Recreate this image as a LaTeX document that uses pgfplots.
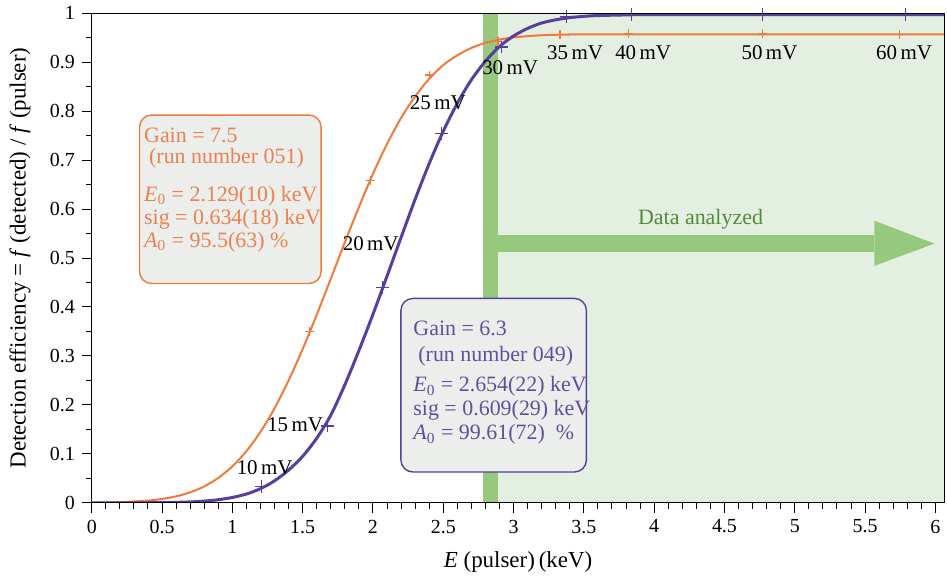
\documentclass[border=0pt]{standalone}
\usepackage{fontspec}
\setmainfont{Liberation Serif}
\usepackage{pgfplots}
\pgfplotsset{compat=1.18}

\definecolor{purp}{RGB}{88,62,158}
\definecolor{purptext}{RGB}{98,78,160}
\definecolor{orng}{RGB}{240,122,58}
\definecolor{orngtext}{RGB}{236,128,78}
\definecolor{boxfill}{RGB}{236,238,235}
\definecolor{bandgreen}{RGB}{150,201,126}
\definecolor{lightgreen}{RGB}{227,239,224}
\definecolor{textgreen}{RGB}{84,138,60}

\newcommand{\lbl}{\fontsize{10}{12}\selectfont}

\begin{document}
\begin{tikzpicture}
  \begin{axis}[
      name=ax,
      scale only axis,
      width=427.5pt, height=245.5pt,
      xmin=0, xmax=6.064, ymin=0, ymax=1,
      xtick={0,0.5,1,1.5,2,2.5,3,3.5,4,4.5,5,5.5,6},
      ytick={0,0.1,0.2,0.3,0.4,0.5,0.6,0.7,0.8,0.9,1},
      minor x tick num=4, minor y tick num=1,
      tick align=outside, xtick pos=bottom, ytick pos=left,
      major tick length=5pt, minor tick length=3pt,
      tick style={black, line width=0.5pt},
      axis line style={line width=0.5pt},
      axis on top,
      /pgf/number format/assume math mode=true,
      tick label style={font=\lbl},
      label style={font=\fontsize{11.5}{13}\selectfont},
      xlabel={\textit{E} (pulser)\,(keV)},
      xlabel style={at={(axis description cs:0.5,-0.120)}, anchor=center},
      ylabel={Detection efficiency = \textit{f} (detected) / \textit{f} (pulser)},
      ylabel style={at={(axis description cs:-0.0842,0.5)}, anchor=center},
    ]
    % analyzed region, cut line and arrow
    \fill[lightgreen] (axis cs:2.887,0) rectangle (axis cs:6.064,1);
    \fill[bandgreen] (axis cs:2.78,0) rectangle (axis cs:2.887,1);
    \fill[bandgreen] (axis cs:2.887,0.5122) rectangle (axis cs:5.567,0.5468);
    \fill[bandgreen] (axis cs:5.567,0.576) -- (axis cs:5.993,0.5295)
                     -- (axis cs:5.567,0.484) -- cycle;
    \node[textgreen, font=\fontsize{11}{13}\selectfont] at (axis cs:4.33,0.58)
      {Data analyzed};

    % fit, gain 7.5
    \addplot[orng, line width=1pt, smooth, no markers] coordinates {
      (0,0) (0.2,0.0014) (0.4,0.0046) (0.5,0.0080) (0.6,0.0133)
      (0.7,0.0215) (0.8,0.0336) (0.9,0.0509) (1.0,0.0745) (1.1,0.1055)
      (1.2,0.145) (1.3,0.193) (1.4,0.250) (1.5,0.314) (1.6,0.384)
      (1.7,0.4575) (1.8,0.532) (1.9,0.604) (2.0,0.672) (2.1,0.733)
      (2.2,0.786) (2.3,0.830) (2.4,0.866) (2.5,0.894) (2.6,0.914)
      (2.7,0.929) (2.8,0.9395) (2.9,0.946) (3.0,0.9507) (3.2,0.955)
      (3.4,0.9565) (3.6,0.957) (6.064,0.957)
    };
    % fit, gain 6.3
    \addplot[purp, line width=1.5pt, smooth, no markers] coordinates {
      (0,0) (0.3,0.0001) (0.5,0.0005) (0.7,0.0019) (0.8,0.0036)
      (0.9,0.0064) (1.0,0.011) (1.1,0.018) (1.2,0.029) (1.3,0.045)
      (1.4,0.067) (1.5,0.095) (1.6,0.132) (1.7,0.179) (1.8,0.241)
      (1.9,0.311) (2.0,0.385) (2.1,0.463) (2.2,0.542) (2.3,0.620)
      (2.4,0.693) (2.5,0.759) (2.6,0.816) (2.7,0.864) (2.8,0.902)
      (2.9,0.932) (3.0,0.9535) (3.1,0.969) (3.2,0.980) (3.3,0.9866)
      (3.4,0.991) (3.5,0.9936) (3.6,0.9952) (3.8,0.9965) (4.0,0.997)
      (6.064,0.997)
    };
    % measured points
    \addplot[only marks, orng, mark=+, mark size=2.2pt,
             mark options={line width=0.6pt}] coordinates {
      (1.546,0.35) (1.985,0.658) (2.40,0.874) (2.89,0.943)
      (3.33,0.957) (3.82,0.959) (4.77,0.958) (5.745,0.957)
    };
    \addplot[only marks, purp, mark=+, mark size=3.2pt,
             mark options={line width=0.6pt}] coordinates {
      (1.21,0.033) (1.675,0.157) (2.07,0.44) (2.49,0.755)
      (2.915,0.931) (3.376,0.994) (3.84,0.997) (4.77,0.997) (5.79,0.997)
    };

    % parameter boxes
    \draw[orng, line width=0.7pt, fill=boxfill, rounded corners=6pt]
      (axis cs:0.340,0.448) rectangle (axis cs:1.631,0.792);
    \node[orngtext, anchor=north west, inner sep=0pt, align=left,
          font=\fontsize{11}{11.5}\selectfont] at (axis cs:0.37,0.766)
      {Gain = 7.5\\[-1pt]
       \hspace*{2.5pt}(run number 051)\\[7.5pt]
       \textit{E}\textsubscript{0} = 2.129(10) keV\\
       sig = 0.634(18) keV\\
       \textit{A}\textsubscript{0} = 95.5(63) \%};

    \draw[purp, line width=0.7pt, fill=boxfill, rounded corners=6pt]
      (axis cs:2.199,0.063) rectangle (axis cs:3.518,0.4175);
    \node[purptext, anchor=north west, inner sep=0pt, align=left,
          font=\fontsize{11}{12}\selectfont] at (axis cs:2.285,0.373)
      {Gain = 6.3\\[1pt]
       \hspace*{2.5pt}(run number 049)\\[3.5pt]
       \textit{E}\textsubscript{0} = 2.654(22) keV\\
       sig = 0.609(29) keV\\
       \textit{A}\textsubscript{0} = 99.61(72)\ \ \%};

    % pulser amplitudes
    \begin{scope}[every node/.style={font=\fontsize{10.5}{12}\selectfont,
                                     inner sep=0pt}]
      \node at (axis cs:1.23,0.071) {10\,mV};
      \node at (axis cs:1.447,0.159) {15\,mV};
      \node at (axis cs:1.984,0.530) {20\,mV};
      \node at (axis cs:2.462,0.817) {25\,mV};
      \node at (axis cs:2.976,0.889) {30\,mV};
      \node at (axis cs:3.437,0.919) {35\,mV};
      \node at (axis cs:3.922,0.919) {40\,mV};
      \node at (axis cs:4.82,0.919) {50\,mV};
      \node at (axis cs:5.778,0.919) {60\,mV};
    \end{scope}
  \end{axis}
  % margins as in the reference
  \path (ax.south west) ++(-46pt,-37pt);
  \path (ax.north west) ++(0,6pt);
\end{tikzpicture}
\end{document}
